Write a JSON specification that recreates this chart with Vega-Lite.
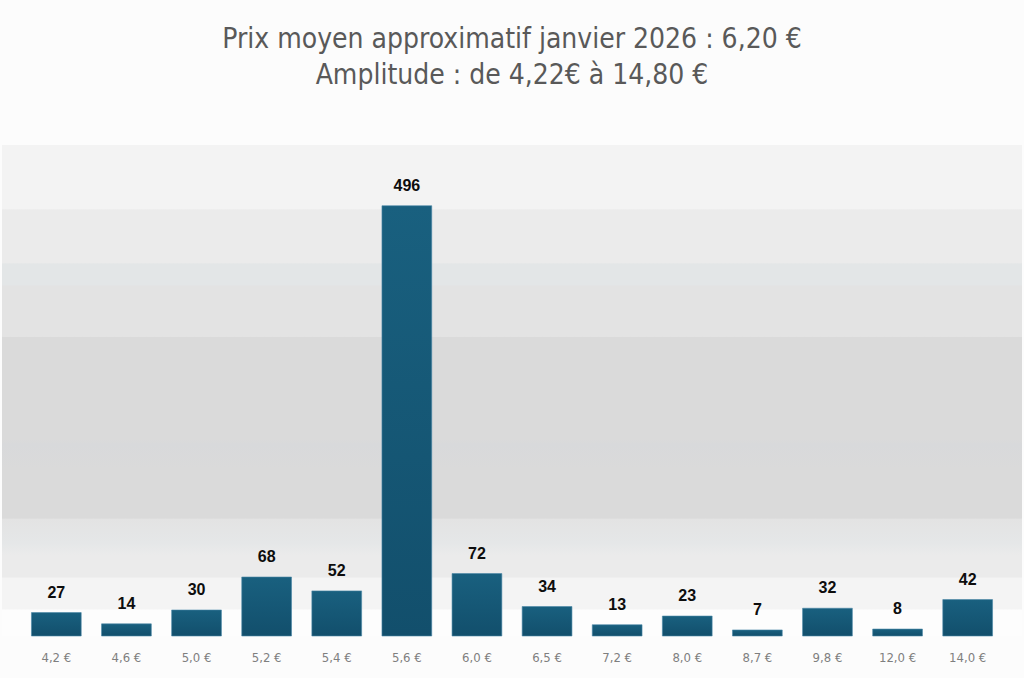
{
  "$schema": "https://vega.github.io/schema/vega-lite/v6.json",
  "width": 1020,
  "height": 491,
  "autosize": {"type": "none"},
  "padding": {"left": 2, "top": 145, "right": 2, "bottom": 42},
  "background": "#fcfcfc",
  "title": {
    "text": "Prix moyen approximatif janvier 2026 : 6,20 €",
    "subtitle": "Amplitude : de 4,22€ à 14,80 €",
    "anchor": "middle",
    "frame": "group",
    "offset": 55,
    "font": "Liberation Sans Narrow, DejaVu Sans Condensed, Roboto",
    "fontSize": 28,
    "fontWeight": "normal",
    "color": "#595959",
    "subtitleFont": "Liberation Sans Narrow, DejaVu Sans Condensed, Roboto",
    "subtitleFontSize": 28,
    "subtitleColor": "#595959",
    "subtitlePadding": 8
  },
  "config": {
    "view": {"stroke": null},
    "axis": {"grid": false}
  },
  "data": {
    "values": [
      {"prix": "4,2 €", "n": 27},
      {"prix": "4,6 €", "n": 14},
      {"prix": "5,0 €", "n": 30},
      {"prix": "5,2 €", "n": 68},
      {"prix": "5,4 €", "n": 52},
      {"prix": "5,6 €", "n": 496},
      {"prix": "6,0 €", "n": 72},
      {"prix": "6,5 €", "n": 34},
      {"prix": "7,2 €", "n": 13},
      {"prix": "8,0 €", "n": 23},
      {"prix": "8,7 €", "n": 7},
      {"prix": "9,8 €", "n": 32},
      {"prix": "12,0 €", "n": 8},
      {"prix": "14,0 €", "n": 42}
    ]
  },
  "layer": [
    {
      "data": {"values": [{}]},
      "mark": {
        "type": "rect",
        "color": {
          "gradient": "linear",
          "x1": 0, "y1": 0, "x2": 0, "y2": 1,
          "stops": [
            {"offset": 0, "color": "#f3f3f3"},
            {"offset": 0.13, "color": "#f3f3f3"},
            {"offset": 0.132, "color": "#ebebeb"},
            {"offset": 0.24, "color": "#ebebeb"},
            {"offset": 0.242, "color": "#e3e6e7"},
            {"offset": 0.285, "color": "#e3e6e7"},
            {"offset": 0.287, "color": "#e3e3e3"},
            {"offset": 0.39, "color": "#e3e3e3"},
            {"offset": 0.392, "color": "#dadada"},
            {"offset": 0.6, "color": "#dadada"},
            {"offset": 0.61, "color": "#d8d9db"},
            {"offset": 0.66, "color": "#dadada"},
            {"offset": 0.76, "color": "#dadada"},
            {"offset": 0.762, "color": "#e3e3e3"},
            {"offset": 0.81, "color": "#e5e7e8"},
            {"offset": 0.835, "color": "#ebebeb"},
            {"offset": 0.88, "color": "#ebebeb"},
            {"offset": 0.882, "color": "#f4f4f4"},
            {"offset": 0.945, "color": "#f4f4f4"},
            {"offset": 0.947, "color": "#fdfdfd"},
            {"offset": 1, "color": "#fdfdfd"}
          ]
        }
      },
      "encoding": {
        "x": {"value": 0},
        "x2": {"value": "width"},
        "y": {"value": 0},
        "y2": {"value": "height"}
      }
    },
    {
      "mark": {
        "type": "bar",
        "stroke": "#4a86a6",
        "strokeWidth": 0.6,
        "color": {
          "gradient": "linear",
          "x1": 0, "y1": 0, "x2": 0, "y2": 1,
          "stops": [
            {"offset": 0, "color": "#19607f"},
            {"offset": 1, "color": "#124f6c"}
          ]
        }
      },
      "encoding": {
        "x": {
          "field": "prix",
          "type": "ordinal",
          "sort": null,
          "scale": {"paddingInner": 0.29, "paddingOuter": 0.42},
          "axis": {
            "title": null,
            "labelAngle": 0,
            "domain": false,
            "ticks": false,
            "labelPadding": 15,
            "labelFont": "Liberation Sans Narrow, DejaVu Sans Condensed, Roboto",
            "labelFontSize": 13,
            "labelColor": "#7f7f7f"
          }
        },
        "y": {
          "field": "n",
          "type": "quantitative",
          "scale": {"domain": [0, 566], "nice": false},
          "axis": null
        }
      }
    },
    {
      "mark": {
        "type": "text",
        "baseline": "bottom",
        "dy": -12,
        "font": "Liberation Sans, Arial, sans-serif",
        "fontWeight": "bold",
        "fontSize": 16,
        "color": "#0d0d0d"
      },
      "encoding": {
        "x": {"field": "prix", "type": "ordinal", "sort": null},
        "y": {"field": "n", "type": "quantitative"},
        "text": {"field": "n", "type": "quantitative"}
      }
    }
  ]
}
